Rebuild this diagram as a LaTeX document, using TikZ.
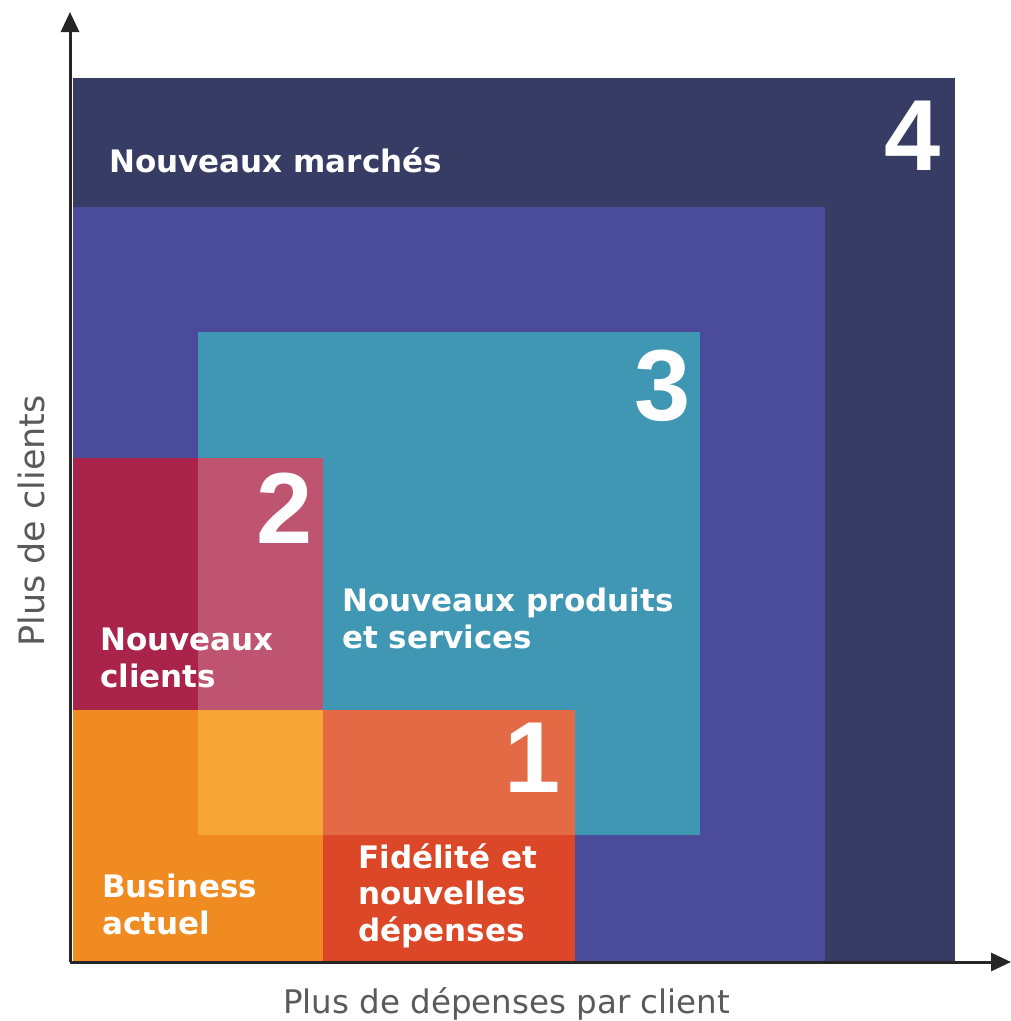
\documentclass[tikz,border=0pt]{standalone}
\usepackage{fontspec}
\setmainfont{DejaVu Sans}
\newfontfamily\numf{Liberation Sans}
\usetikzlibrary{arrows.meta}
\definecolor{navy}{HTML}{373C64}
\definecolor{purp}{HTML}{4A4B9B}
\definecolor{teal3}{HTML}{3F97B3}
\definecolor{crim}{HTML}{AA234B}
\definecolor{pink2}{HTML}{BF5471}
\definecolor{orng}{HTML}{F08B21}
\definecolor{lorng}{HTML}{F5A636}
\definecolor{salm}{HTML}{E36A44}
\definecolor{redo}{HTML}{DC4727}
\definecolor{axisgrey}{HTML}{5A5A5A}
\begin{document}
\begin{tikzpicture}[x=1pt,y=-1pt,
  lbl/.style={text=white,font=\fontsize{31}{36.5}\selectfont\bfseries,anchor=base west,inner sep=0pt,align=left},
  num/.style={text=white,font=\fontsize{101}{101}\selectfont\numf\bfseries,anchor=base east,inner sep=0pt},
  axlbl/.style={text=axisgrey,inner sep=0pt},
  axisline/.style={draw=black!85,line width=3pt,-{Triangle[length=20pt,width=18pt]}}]
\useasboundingbox (0,0) rectangle (1011,1021);
% regions
\fill[navy] (73,78) rectangle (955,962);
\fill[purp] (73,207) rectangle (825,962);
\fill[teal3] (198,332) rectangle (700,835);
\fill[crim] (73,458) rectangle (323,710);
\fill[pink2] (198,458) rectangle (323,710);
\fill[orng] (73,710) rectangle (323,962);
\fill[lorng] (198,710) rectangle (323,835);
\fill[redo] (323,710) rectangle (575,962);
\fill[salm] (323,710) rectangle (575,835);
% axes
\coordinate (O) at (70,962);
\coordinate (ytip) at (70,12);
\coordinate (xtip) at (1011,962);
\draw[axisline] (O) -- (ytip);
\draw[axisline] (O) -- (xtip);
% labels (base = baseline of last line)
\node[lbl] (l4) at (109,172) {Nouveaux marchés};
\node[lbl] (l3) at (342,648) {Nouveaux produits\\et services};
\node[lbl] (l2) at (100,687) {Nouveaux\\clients};
\node[lbl] (l0) at (102,934) {Business\\actuel};
\node[lbl] (l1) at (358,941) {Fidélité et\\nouvelles\\dépenses};
% numbers
\node[num] (n4) at (941,170) {4};
\node[num] (n3) at (691,420) {3};
\node[num] (n2) at (313,543) {2};
\node[num] (n1) at (561,792) {1};
% axis labels
\node[axlbl,font=\fontsize{32.5}{32.5}\selectfont,anchor=base west] (xl) at (283,1013) {Plus de dépenses par client};
\node[axlbl,font=\fontsize{35}{35}\selectfont,anchor=base west,rotate=90] (yl) at (45,647) {Plus de clients};
\end{tikzpicture}
\end{document}
